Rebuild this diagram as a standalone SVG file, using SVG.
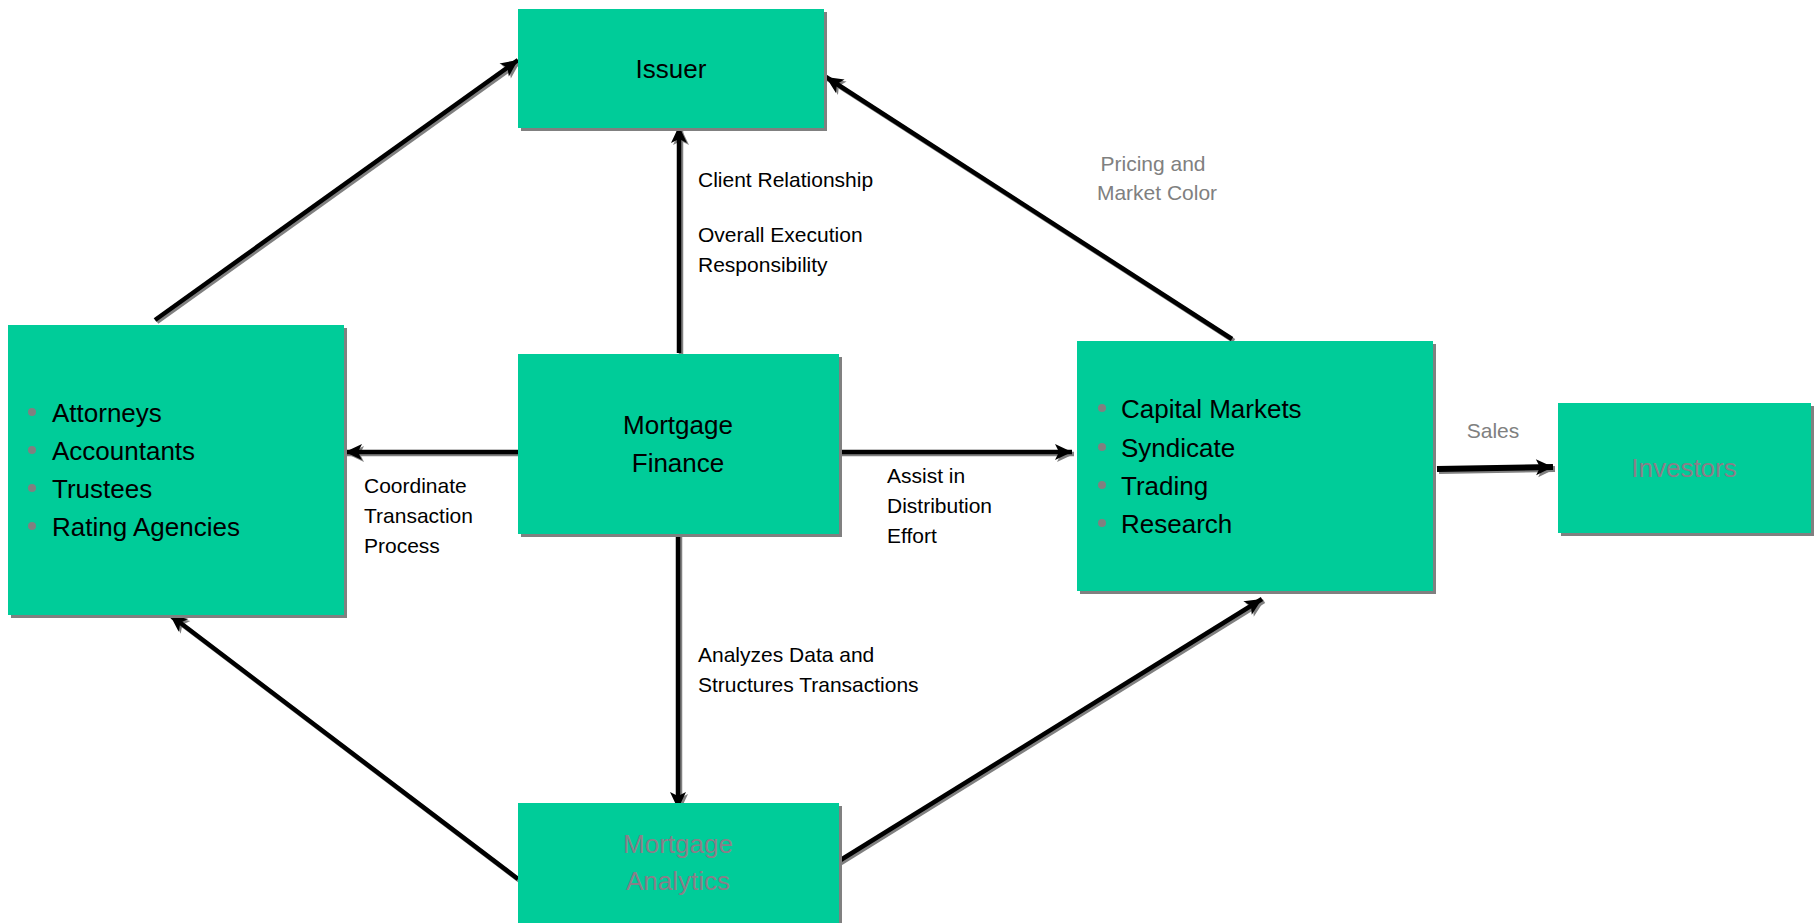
<svg xmlns="http://www.w3.org/2000/svg" width="1814" height="923" viewBox="0 0 1814 923">
<style>
.box{fill:#00CC99}
.bsh{fill:#808080}
.nt{font-family:"Liberation Sans",Arial,sans-serif;font-size:26px;fill:#000}
.lb{font-family:"Liberation Sans",Arial,sans-serif;font-size:21px;fill:#000}
.gl{font-family:"Liberation Sans",Arial,sans-serif;font-size:21px;fill:#808080}
.mid{text-anchor:middle}
.bul{fill:#808080}
.dim{fill:#8a7e88}
.ln{stroke:#000;stroke-width:4.5;fill:none;marker-end:url(#ah)}
.ls{stroke:#808080;stroke-width:4.5;fill:none;marker-end:url(#ahs)}
</style>
<defs>
<marker id="ah" markerUnits="userSpaceOnUse" markerWidth="20" markerHeight="20" viewBox="-18 -10 20 20" refX="0" refY="0" orient="auto" overflow="visible">
<path d="M0,0 L-17,-8 L-13,0 L-17,8 Z" fill="#000"/>
</marker>
<marker id="ahs" markerUnits="userSpaceOnUse" markerWidth="20" markerHeight="20" viewBox="-18 -10 20 20" refX="0" refY="0" orient="auto" overflow="visible">
<path d="M0,0 L-17,-8 L-13,0 L-17,8 Z" fill="#808080"/>
</marker>
</defs>
<rect width="1814" height="923" fill="#fff"/>

<g id="connectors">
<g transform="translate(2,2)">
<line class="ls" x1="155" y1="320" x2="518" y2="60"/>
<line class="ls" x1="1232" y1="339" x2="826" y2="77"/>
<line class="ls" x1="679" y1="353" x2="679" y2="126"/>
<line class="ls" x1="518" y1="452" x2="345" y2="452"/>
<line class="ls" x1="839" y1="452" x2="1072" y2="452"/>
<line class="ls" x1="678" y1="534" x2="678" y2="809"/>
<line class="ls" x1="518" y1="879" x2="170" y2="615"/>
<line class="ls" x1="839" y1="861" x2="1262" y2="599"/>
<line class="ls" style="stroke-width:6" x1="1437" y1="469" x2="1553" y2="467"/>
</g>
<line class="ln" x1="155" y1="320" x2="518" y2="60"/>
<line class="ln" x1="1232" y1="339" x2="826" y2="77"/>
<line class="ln" x1="679" y1="353" x2="679" y2="126"/>
<line class="ln" x1="518" y1="452" x2="345" y2="452"/>
<line class="ln" x1="839" y1="452" x2="1072" y2="452"/>
<line class="ln" x1="678" y1="534" x2="678" y2="809"/>
<line class="ln" x1="518" y1="879" x2="170" y2="615"/>
<line class="ln" x1="839" y1="861" x2="1262" y2="599"/>
<line class="ln" style="stroke-width:6" x1="1437" y1="469" x2="1553" y2="467"/>
</g>

<g id="labels">
<text class="lb" x="698" y="187">Client Relationship</text>
<text class="lb" x="698" y="242">Overall Execution</text>
<text class="lb" x="698" y="272">Responsibility</text>
<text class="lb" x="364" y="493">Coordinate</text>
<text class="lb" x="364" y="523">Transaction</text>
<text class="lb" x="364" y="553">Process</text>
<text class="lb" x="887" y="483">Assist in</text>
<text class="lb" x="887" y="513">Distribution</text>
<text class="lb" x="887" y="543">Effort</text>
<text class="lb" x="698" y="662">Analyzes Data and</text>
<text class="lb" x="698" y="692">Structures Transactions</text>
<text class="gl mid" x="1153" y="171">Pricing and</text>
<text class="gl mid" x="1157" y="200">Market Color</text>
<text class="gl mid" x="1493" y="438">Sales</text>
</g>

<g id="issuer">
<rect class="bsh" x="521" y="12" width="306" height="119"/>
<rect class="box" x="518" y="9" width="306" height="119"/>
<text class="nt mid" x="671" y="78">Issuer</text>
</g>

<g id="professionals">
<rect class="bsh" x="11" y="328" width="336" height="290"/>
<rect class="box" x="8" y="325" width="336" height="290"/>
<circle class="bul" cx="32" cy="412" r="4"/>
<circle class="bul" cx="32" cy="450" r="4"/>
<circle class="bul" cx="32" cy="488" r="4"/>
<circle class="bul" cx="32" cy="526" r="4"/>
<text class="nt" x="52" y="422">Attorneys</text>
<text class="nt" x="52" y="460">Accountants</text>
<text class="nt" x="52" y="498">Trustees</text>
<text class="nt" x="52" y="536">Rating Agencies</text>
</g>

<g id="mortgage-finance">
<rect class="bsh" x="521" y="357" width="321" height="180"/>
<rect class="box" x="518" y="354" width="321" height="180"/>
<text class="nt mid" x="678" y="434">Mortgage</text>
<text class="nt mid" x="678" y="472">Finance</text>
</g>

<g id="capital-markets">
<rect class="bsh" x="1080" y="344" width="356" height="250"/>
<rect class="box" x="1077" y="341" width="356" height="250"/>
<circle class="bul" cx="1102" cy="408" r="4"/>
<circle class="bul" cx="1102" cy="447" r="4"/>
<circle class="bul" cx="1102" cy="485" r="4"/>
<circle class="bul" cx="1102" cy="523" r="4"/>
<text class="nt" x="1121" y="418">Capital Markets</text>
<text class="nt" x="1121" y="457">Syndicate</text>
<text class="nt" x="1121" y="495">Trading</text>
<text class="nt" x="1121" y="533">Research</text>
</g>

<g id="investors">
<rect class="bsh" x="1561" y="406" width="253" height="130"/>
<rect class="box" x="1558" y="403" width="253" height="130"/>
<text class="nt mid dim" x="1684" y="477">Investors</text>
</g>

<g id="mortgage-analytics">
<rect class="bsh" x="521" y="806" width="321" height="120"/>
<rect class="box" x="518" y="803" width="321" height="120"/>
<text class="nt mid dim" x="678" y="853">Mortgage</text>
<text class="nt mid dim" x="678" y="890">Analytics</text>
</g>
</svg>
